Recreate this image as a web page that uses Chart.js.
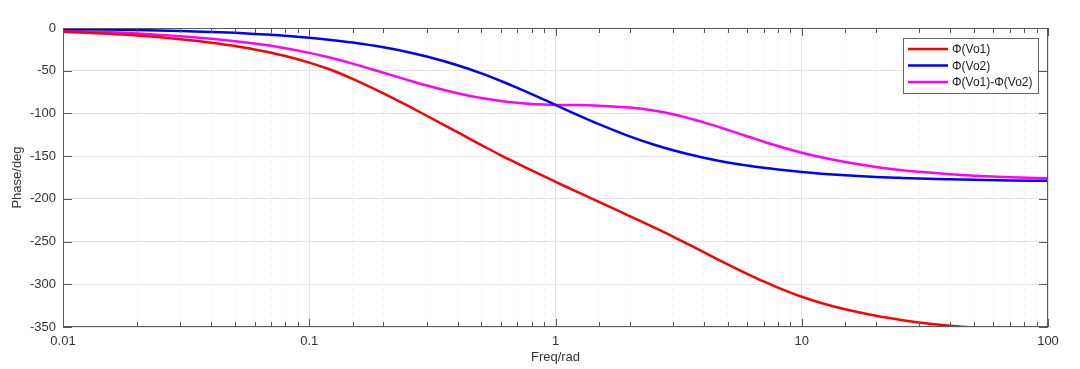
<!DOCTYPE html>
<html>
<head>
<meta charset="utf-8">
<script src="https://cdn.jsdelivr.net/npm/chart.js@4.4.0/dist/chart.umd.min.js"></script>
<style>
  html, body { margin: 0; padding: 0; background: #fff; }
  #wrap { width: 1080px; height: 369px; }
</style>
</head>
<body>
<div id="wrap"><canvas id="phaseChart" width="1080" height="369"></canvas></div>
<script>
// values
const freq      = [0.01, 0.02, 0.03, 0.04, 0.05, 0.06, 0.07, 0.08, 0.1, 0.12, 0.15, 0.2, 0.25, 0.3, 0.4, 0.5, 0.6, 0.7, 0.8, 1,
                   1.2, 1.5, 2, 2.5, 3, 4, 5, 6, 7, 8, 10, 12, 15, 20, 25, 30, 40, 50, 70, 100];
const phaseVo1  = [-4.3, -8.8, -13.1, -17.2, -21.1, -25.1, -28.9, -32.8, -40.5, -48, -59.5, -76.5, -90.7, -102.7, -122, -137, -149, -158.5, -166.8, -180,
                   -190.6, -203.6, -220.1, -233.1, -244.1, -262.4, -276.6, -287.7, -296.7, -303.9, -314.6, -321.9, -329.3, -336.9, -341.5, -344.6, -348.4, -350.6, null, null];
const phaseVo2  = [-1.1, -2.3, -3.4, -4.6, -5.7, -6.9, -8.0, -9.1, -11.4, -13.7, -17.1, -22.6, -28, -33.4, -43.6, -53.1, -62, -70, -77.3, -90,
                   -100.4, -112.6, -126.9, -136.4, -143.1, -151.9, -157.4, -161, -163.7, -165.7, -168.6, -170.5, -172.4, -174.3, -175.4, -176.2, -177.1, -177.7, -178.4, -178.9];
const phaseDiff = [-3.2, -6.5, -9.7, -12.6, -15.4, -18.2, -20.9, -23.7, -29.1, -34.3, -41.7, -52.3, -60.7, -67.3, -76.3, -82, -85.5, -87.6, -88.9, -90,
                   -90.2, -91, -93.2, -96.7, -101, -110.5, -119.2, -126.7, -133, -138.2, -146, -151.4, -156.9, -162.6, -166.1, -168.4, -171.3, -172.9, -174.7, -175.9];

const seriesLabels = ["\u03A6(Vo1)", "\u03A6(Vo2)", "\u03A6(Vo1)-\u03A6(Vo2)"];
const seriesColors = ["#ff0000", "#0000ff", "#ff00ff"];
const xTickLabels = ["0.01", "0.1", "1", "10", "100"];
const xTitle = "Freq/rad";
const yTitle = "Phase/deg";

const FONT = "'Liberation Sans', Arial, sans-serif";

function isDecade(v) {
  const l = Math.log10(v);
  return Math.abs(l - Math.round(l)) < 1e-9;
}

function toPoints(ys) {
  const pts = [];
  ys.forEach((y, i) => { if (y !== null) pts.push({ x: freq[i], y: y }); });
  return pts;
}

const framePlugin = {
  id: "frame",
  afterDatasetsDraw(chart) {
    const { ctx, chartArea: a, scales } = chart;
    const x = scales.x, y = scales.y;
    ctx.save();

    // box
    ctx.strokeStyle = "#5a5a5a";
    ctx.lineWidth = 1;
    ctx.strokeRect(Math.round(a.left) + 0.5, Math.round(a.top) + 0.5,
      Math.round(a.right - a.left) - 1, Math.round(a.bottom - a.top) - 1);

    // inward ticks
    ctx.beginPath();
    x.ticks.forEach(t => {
      const px = Math.round(x.getPixelForValue(t.value)) + 0.5;
      const len = isDecade(t.value) ? 8 : 5;
      ctx.moveTo(px, a.bottom); ctx.lineTo(px, a.bottom - len);
      ctx.moveTo(px, a.top); ctx.lineTo(px, a.top + len);
    });
    y.ticks.forEach(t => {
      const py = Math.round(y.getPixelForValue(t.value)) + 0.5;
      ctx.moveTo(a.left, py); ctx.lineTo(a.left + 9, py);
      ctx.moveTo(a.right, py); ctx.lineTo(a.right - 9, py);
    });
    ctx.stroke();

    // axis titles
    ctx.fillStyle = "#333";
    ctx.font = "13px " + FONT;
    ctx.textAlign = "center";
    ctx.textBaseline = "middle";
    ctx.fillText(xTitle, (a.left + a.right) / 2, 357);
    ctx.save();
    ctx.translate(17, (a.top + a.bottom) / 2);
    ctx.rotate(-Math.PI / 2);
    ctx.fillText(yTitle, 0, 0);
    ctx.restore();

    // legend box
    const lx = 903, ly = 38, lw = 135, lh = 55;
    ctx.fillStyle = "#fff";
    ctx.fillRect(lx, ly, lw, lh);
    ctx.strokeStyle = "#666";
    ctx.strokeRect(lx + 0.5, ly + 0.5, lw, lh);
    ctx.font = "12px " + FONT;
    ctx.textAlign = "left";
    chart.data.datasets.forEach((ds, i) => {
      const ry = ly + 11 + i * 16.5;
      ctx.strokeStyle = ds.borderColor;
      ctx.lineWidth = 2.5;
      ctx.beginPath();
      ctx.moveTo(lx + 5, ry); ctx.lineTo(lx + 45, ry);
      ctx.stroke();
      ctx.fillStyle = "#222";
      ctx.fillText(ds.label, lx + 49, ry + 1);
    });
    ctx.restore();
  }
};

new Chart(document.getElementById("phaseChart").getContext("2d"), {
  type: "line",
  data: {
    datasets: [
      { label: seriesLabels[0], data: toPoints(phaseVo1), borderColor: seriesColors[0] },
      { label: seriesLabels[1], data: toPoints(phaseVo2), borderColor: seriesColors[1] },
      { label: seriesLabels[2], data: toPoints(phaseDiff), borderColor: seriesColors[2] }
    ]
  },
  options: {
    responsive: false,
    animation: false,
    devicePixelRatio: 1,
    layout: { padding: { top: 28, right: 32, left: 0, bottom: 0 } },
    elements: {
      line: { borderWidth: 2.5, tension: 0.4, cubicInterpolationMode: "monotone", fill: false },
      point: { radius: 0, hoverRadius: 0 }
    },
    plugins: {
      legend: { display: false },
      tooltip: { enabled: false }
    },
    scales: {
      x: {
        type: "logarithmic",
        min: 0.01,
        max: 100,
        afterFit: s => { s.height = 42; },
        border: {
          display: false,
          dash: c => (c.tick && isDecade(c.tick.value)) ? [] : [1, 3]
        },
        grid: {
          drawTicks: false,
          color: c => (c.tick && isDecade(c.tick.value)) ? "#e2e2e2" : "#e6e6e6",
          lineWidth: 1
        },
        ticks: {
          autoSkip: false,
          maxRotation: 0,
          padding: 7,
          color: "#333",
          font: { family: FONT, size: 13 },
          callback: v => isDecade(v) ? xTickLabels[Math.round(Math.log10(v)) + 2] : ""
        }
      },
      y: {
        min: -350,
        max: 0,
        afterFit: s => { s.width = 63; },
        border: { display: false },
        grid: { drawTicks: false, color: "#e6e6e6", lineWidth: 1 },
        ticks: {
          stepSize: 50,
          padding: 7,
          color: "#333",
          font: { family: FONT, size: 13 }
        }
      }
    }
  },
  plugins: [framePlugin]
});
</script>
</body>
</html>
